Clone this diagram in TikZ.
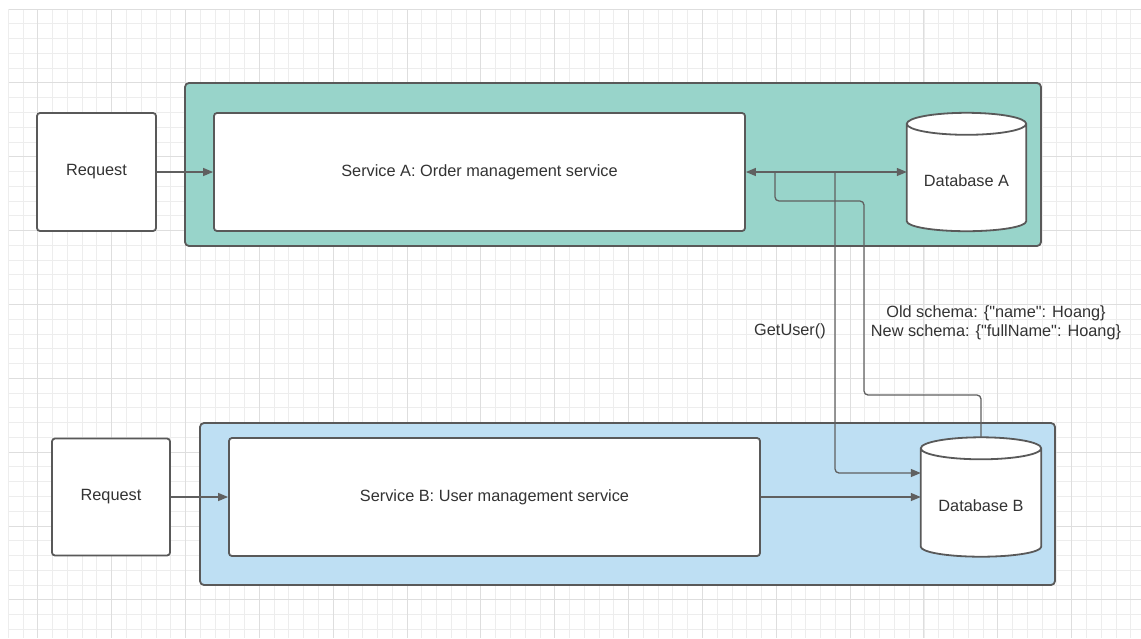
\documentclass[tikz,border=0pt]{standalone}
\usepackage{fontspec}
\setmainfont{Liberation Sans}[Ligatures=TeXOff]
\usetikzlibrary{arrows.meta,calc}

\definecolor{edge}{HTML}{595959}
\definecolor{wire}{HTML}{606060}
\definecolor{ink}{HTML}{333333}
\definecolor{teal}{HTML}{98D4CA}
\definecolor{sky}{HTML}{BEDFF3}
\definecolor{gridminor}{HTML}{EDEDED}
\definecolor{gridmajor}{HTML}{DEDEDE}

\tikzset{
  box/.style={draw=edge, line width=1.8pt, fill=white, rounded corners=3pt,
    inner sep=0pt, text=ink},
  frame/.style={draw=edge, line width=1.8pt, rounded corners=4pt, inner sep=0pt},
  dbslot/.style={inner sep=0pt, draw=none},
  label/.style={text=ink, inner sep=0pt, align=center},
  wireline/.style={draw=wire, line width=1.3pt},
  arr/.style={wireline, -{Triangle[length=10pt,width=8pt]}},
  biarr/.style={wireline, {Triangle[length=10pt,width=8pt]}-{Triangle[length=10pt,width=8pt]}},
}

% cylinder outline drawn over a named rectangular slot
\newcommand{\drumshape}[1]{%
  \path let \p1=(#1.north west), \p2=(#1.south east), \n1={(\x2-\x1)/2} in
    [draw=edge, line width=1.8pt, fill=white]
    (\x1,\y1-11pt) -- (\x1,\y2+10pt)
    arc[start angle=180, end angle=360, x radius=\n1, y radius=10pt]
    -- (\x2,\y1-11pt)
    arc[start angle=0, end angle=180, x radius=\n1, y radius=11pt] -- cycle
    (\x1,\y1-11pt) arc[start angle=180, end angle=360, x radius=\n1, y radius=11pt];%
}

\begin{document}
\begin{tikzpicture}[x=1pt, y=-1pt, font=\fontsize{16.3}{19}\selectfont]
\useasboundingbox (0,0) rectangle (1141,638);
\fill[white] (0,0) rectangle (1141,638);

% background grid
\foreach \i in {0,...,76} \draw[gridminor, line width=0.8pt] ({8.2+14.77*\i},9) -- ({8.2+14.77*\i},638);
\foreach \j in {0,...,42} \draw[gridminor, line width=0.8pt] (9,{9+14.77*\j}) -- (1141,{9+14.77*\j});
\foreach \i in {0,...,15} \draw[gridmajor, line width=0.9pt] ({37.7+73.85*\i},9) -- ({37.7+73.85*\i},638);
\foreach \j in {0,...,8} \draw[gridmajor, line width=0.9pt] (9,{9+73.85*\j}) -- (1141,{9+73.85*\j});

% containers
\node[frame, fill=teal, minimum width=856pt, minimum height=163pt] (contA) at (613,164.5) {};
\node[frame, fill=sky, minimum width=855pt, minimum height=162pt] (contB) at (627.5,504) {};

% boxes
\node[box, minimum width=119pt, minimum height=118pt] (reqA) at (96.5,172) {Request};
\node[box, minimum width=531pt, minimum height=118pt] (svcA) at (479.5,172) {Service A: Order management service};
\node[box, minimum width=118pt, minimum height=117pt] (reqB) at (111,497) {Request};
\node[box, minimum width=531pt, minimum height=118pt] (svcB) at (494.5,497) {Service B: User management service};

% databases
\node[dbslot, minimum width=119pt, minimum height=118pt] (dbA) at (966.5,172) {};
\node[dbslot, minimum width=120pt, minimum height=119pt] (dbB) at (981,497) {};
\drumshape{dbA}
\drumshape{dbB}
\node[label] (dbAtext) at ([yshift=-9pt]dbA.center) {Database A};
\node[label] (dbBtext) at ([yshift=-9pt]dbB.center) {Database B};

% connectors
\draw[arr] (reqA) -- (svcA);
\draw[biarr] (svcA.east) -- (dbA.west);
\coordinate (tapA) at (775,172);
\coordinate (tapG) at (835,172);
\draw[wireline, rounded corners=4pt] (dbB.north) |- (864,395) |- (775,201) -- (tapA);
\draw[arr, rounded corners=4pt] (tapG) |- ([yshift=24pt]dbB.west);
\draw[arr] (reqB) -- (svcB);
\draw[arr] (svcB.east) -- (dbB.west);

% labels
\node[label] (getuser) at (790,331) {GetUser()};
\node[label] (schema) at (996,322.5) {Old schema: \{"name": Hoang\}\\New schema: \{"fullName": Hoang\}};
\end{tikzpicture}
\end{document}
